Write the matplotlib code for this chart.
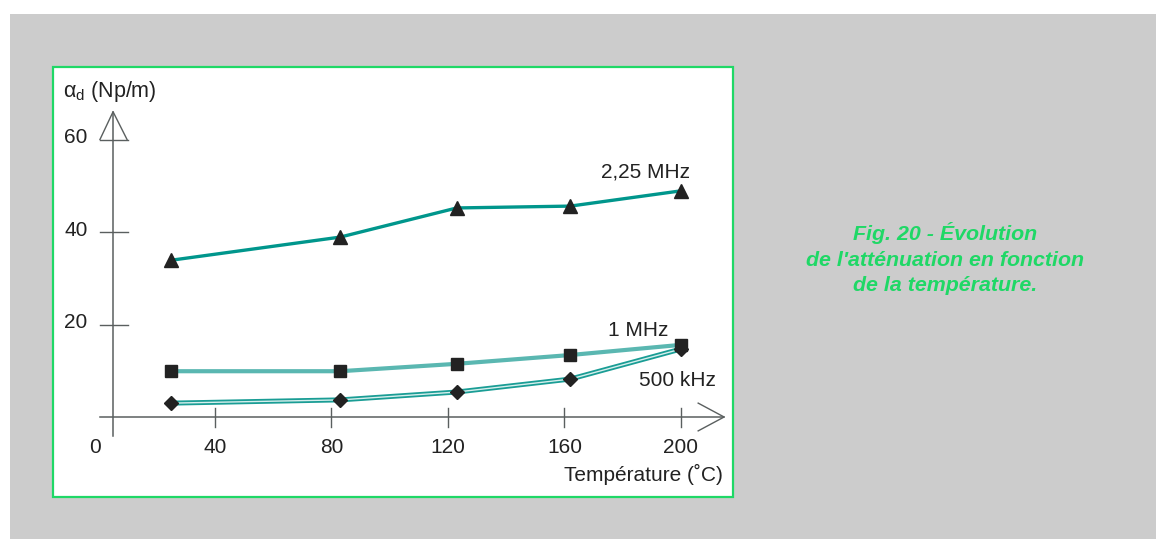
import matplotlib.pyplot as plt
from matplotlib.patches import Rectangle

plt.rcParams['font.family'] = ['Liberation Sans', 'DejaVu Sans']
plt.rcParams['mathtext.fontset'] = 'custom'
plt.rcParams['mathtext.rm'] = 'Liberation Sans'
plt.rcParams['mathtext.it'] = 'Liberation Sans'

# Attenuation vs temperature for three frequencies
temp_225 = [25, 83, 123, 162, 200]
att_225 = [33.9, 38.9, 45.2, 45.6, 48.9]

temp_1m = [25, 83, 123, 162, 200]
att_1m = [9.9, 9.9, 11.5, 13.4, 15.6]

temp_500k = [25, 83, 123, 162, 200]
att_500k = [3.0, 3.7, 5.4, 8.2, 14.7]

x_ticks = [40, 80, 120, 160, 200]
y_ticks = [20, 40, 60]

axis_col = '#5a5f5f'
text_col = '#222222'
green = '#1fd866'
fs = 15

fig = plt.figure(figsize=(11.56, 5.39), dpi=100)
fig.patch.set_facecolor('white')

# grey page and white framed panel
fig.patches.append(Rectangle((10 / 1156, 0), 1, (539 - 14) / 539,
                             transform=fig.transFigure, facecolor='#cccccc',
                             edgecolor='none', zorder=0))
fig.patches.append(Rectangle((53 / 1156, 42 / 539), 680 / 1156, 430 / 539,
                             transform=fig.transFigure, facecolor='white',
                             edgecolor=green, linewidth=1.6, zorder=1))

ax = fig.add_axes([0.07261, 0.18344, 0.55428, 0.64355], zorder=2)
ax.set_xlim(-5, 215)
ax.set_ylim(-5, 70)
ax.axis('off')
ax.patch.set_alpha(0)

# hand drawn axes with open arrow heads
ax.plot([5, 5], [-4.1, 66], color=axis_col, lw=1.1, clip_on=False)
ax.plot([0.5, 5, 9.8], [60, 66, 60], color=axis_col, lw=1.0, clip_on=False)
ax.plot([0.5, 214.8], [0, 0], color=axis_col, lw=1.1, clip_on=False)
ax.plot([205.9, 214.8, 205.9], [3, 0, -3], color=axis_col, lw=1.0, clip_on=False)
for t in x_ticks:
    ax.plot([t, t], [-2.2, 2.0], color=axis_col, lw=1.0)
    ax.text(t, -6.6, str(t), ha='center', va='center', fontsize=fs, color=text_col, clip_on=False)
for v in y_ticks:
    ax.plot([0.5, 10], [v, v], color=axis_col, lw=1.0)
    ax.text(-7.7, v + 0.4, str(v), ha='center', va='center', fontsize=fs, color=text_col)
ax.text(-1.2, -6.6, '0', ha='center', va='center', fontsize=fs, color=text_col, clip_on=False)

ax.text(214.5, -12.4, 'Température (˚C)', ha='right', va='center', fontsize=fs,
        color=text_col, clip_on=False)
ax.text(-12.3, 70.3, r'$\alpha_{\rm d}$ (Np/m)', ha='left', va='center', fontsize=15.5,
        color=text_col, clip_on=False)

# series
ax.plot(temp_225, att_225, color='#00968c', lw=2.4, zorder=3, clip_on=False)
ax.plot(temp_225, att_225, ls='none', marker='^', ms=9.5, color=text_col, zorder=4, clip_on=False)

ax.plot(temp_1m, att_1m, color='#5ab7b1', lw=3.0, zorder=3, clip_on=False)
ax.plot(temp_1m, att_1m, ls='none', marker='s', ms=8.5, color=text_col, zorder=4, clip_on=False)

ax.plot(temp_500k, att_500k, color='#1a9d95', lw=3.6, zorder=3, clip_on=False)
ax.plot(temp_500k, att_500k, color='#d6efed', lw=1.0, zorder=3, clip_on=False)
ax.plot(temp_500k, att_500k, ls='none', marker='D', ms=7, color=text_col, zorder=4, clip_on=False)

ax.text(203, 53.0, '2,25 MHz', ha='right', va='center', fontsize=fs, color=text_col)
ax.text(195.5, 18.6, '1 MHz', ha='right', va='center', fontsize=fs, color=text_col)
ax.text(212, 7.9, '500 kHz', ha='right', va='center', fontsize=fs, color=text_col)

fig.text(945 / 1156, 1 - 258.5 / 539,
         "Fig. 20 - Évolution\nde l'atténuation en fonction\nde la température.",
         ha='center', va='center', fontsize=15.4, color=green, fontweight='bold',
         fontstyle='italic', linespacing=1.45)

fig.savefig('out.png', dpi=100)
